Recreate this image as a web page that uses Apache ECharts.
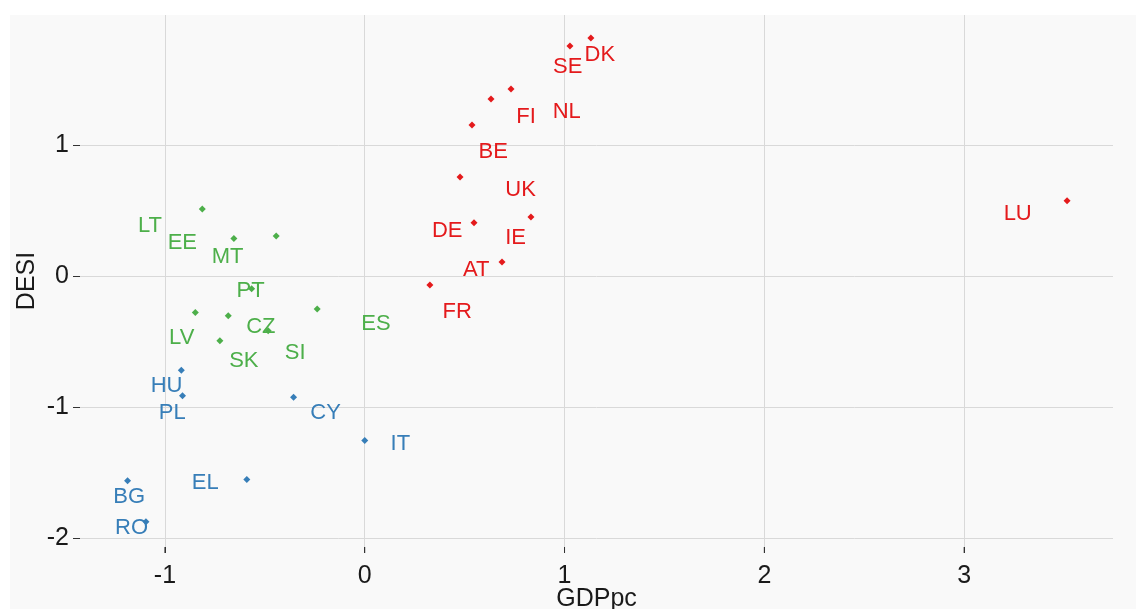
<!DOCTYPE html>
<html>
<head>
<meta charset="utf-8">
<script src="https://cdn.jsdelivr.net/npm/echarts@6/dist/echarts.min.js"></script>
<style>
html,body{margin:0;padding:0;background:#ffffff;}
#bg{position:absolute;left:10px;top:15px;width:1126px;height:594px;background:#f9f9f9;}
#c{position:absolute;left:0;top:0;width:1136px;height:609px;}
</style>
</head>
<body>
<div id="bg"></div>
<div id="c"></div>
<script>
// Cluster 1 (red)
const redNames = ['DK','SE','NL','FI','BE','UK','DE','IE','AT','FR','LU'];
const redGDP   = [1.132,1.027,0.732,0.632,0.537,0.477,0.547,0.832,0.687,0.326,3.515];
const redDESI  = [1.817,1.756,1.427,1.351,1.153,0.756,0.405,0.450,0.107,-0.069,0.573];
const redLabX  = [1.177,1.016,1.011,0.807,0.643,0.780,0.413,0.755,0.558,0.463,3.268];
const redLabY  = [1.687,1.598,1.250,1.216,0.944,0.656,0.344,0.288,0.046,-0.273,0.473];
// Cluster 2 (green)
const greenNames = ['LT','EE','MT','PT','LV','SK','ES','SI','CZ'];
const greenGDP   = [-0.813,-0.655,-0.443,-0.566,-0.848,-0.725,-0.238,-0.483,-0.683];
const greenDESI  = [0.511,0.285,0.305,-0.099,-0.280,-0.496,-0.252,-0.418,-0.305];
const greenLabX  = [-1.075,-0.913,-0.686,-0.571,-0.916,-0.605,0.056,-0.348,-0.520];
const greenLabY  = [0.382,0.250,0.143,-0.115,-0.476,-0.649,-0.369,-0.585,-0.387];
// Cluster 3 (blue)
const blueNames = ['HU','PL','CY','IT','EL','BG','RO'];
const blueGDP   = [-0.918,-0.912,-0.356,0.000,-0.590,-1.187,-1.095];
const blueDESI  = [-0.720,-0.916,-0.926,-1.257,-1.555,-1.565,-1.878];
const blueLabX  = [-0.992,-0.963,-0.196,0.178,-0.798,-1.179,-1.167];
const blueLabY  = [-0.840,-1.048,-1.044,-1.285,-1.578,-1.687,-1.926];

const xTicks = [-1,0,1,2,3];
const yTicks = [-2,-1,0,1];
const xTitle = 'GDPpc';
const yTitle = 'DESI';

const X_MIN = -1.425, X_MAX = 3.745, Y_MIN = -2.07, Y_MAX = 1.992;

const clusters = [
  {names: redNames, x: redGDP, y: redDESI, lx: redLabX, ly: redLabY, color: '#e41a1c'},
  {names: greenNames, x: greenGDP, y: greenDESI, lx: greenLabX, ly: greenLabY, color: '#4daf4a'},
  {names: blueNames, x: blueGDP, y: blueDESI, lx: blueLabX, ly: blueLabY, color: '#377eb8'}
];

const FONT = 'Liberation Sans, Arial, sans-serif';
const series = [];
clusters.forEach(c => {
  series.push({
    type: 'scatter',
    symbol: 'diamond',
    symbolSize: 7,
    itemStyle: {color: c.color, opacity: 1},
    data: c.names.map((n, i) => ({name: n, value: [c.x[i], c.y[i]]})),
    z: 3
  });
  series.push({
    type: 'scatter',
    symbolSize: 1,
    itemStyle: {color: 'rgba(0,0,0,0)', opacity: 1},
    label: {
      show: true, position: 'inside', formatter: '{b}',
      color: c.color, opacity: 1, fontSize: 22, fontFamily: FONT
    },
    data: c.names.map((n, i) => ({name: n, value: [c.lx[i], c.ly[i]]})),
    z: 4
  });
});
// x-axis tick marks placed through the axis scale, just below the plot area
series.push({
  type: 'scatter',
  silent: true,
  clip: false,
  symbol: 'rect',
  symbolSize: [1, 6],
  symbolOffset: [0, 3],
  itemStyle: {color: '#333', opacity: 1},
  data: xTicks.map(v => [v, Y_MIN]),
  z: 5
});

const chart = echarts.init(document.getElementById('c'), null, {renderer: 'canvas'});
chart.setOption({
  backgroundColor: 'transparent',
  animation: false,
  grid: {left: 80, right: 23, top: 15, bottom: 62, containLabel: false, outerBoundsMode: 'none'},
  xAxis: {
    type: 'value', min: X_MIN, max: X_MAX,
    name: xTitle, nameLocation: 'middle', nameGap: 40, nameMoveOverlap: false,
    nameTextStyle: {fontSize: 25, color: '#1a1a1a', fontFamily: FONT},
    axisLine: {show: false, onZero: false},
    axisTick: {show: true, inside: false, length: 6, lineStyle: {color: '#333', width: 1}, customValues: xTicks},
    axisLabel: {fontSize: 25, color: '#1a1a1a', margin: 17, fontFamily: FONT, customValues: xTicks},
    splitLine: {show: true, lineStyle: {color: '#d9d9d9', width: 1}}
  },
  yAxis: {
    type: 'value', min: Y_MIN, max: Y_MAX,
    name: yTitle, nameLocation: 'middle', nameGap: 40, nameMoveOverlap: false,
    nameTextStyle: {fontSize: 25, color: '#1a1a1a', fontFamily: FONT},
    axisLine: {show: false, onZero: false},
    axisTick: {show: true, length: 7, lineStyle: {color: '#333'}, customValues: yTicks},
    axisLabel: {fontSize: 25, color: '#1a1a1a', margin: 11, fontFamily: FONT, customValues: yTicks},
    splitLine: {show: true, lineStyle: {color: '#d9d9d9', width: 1}}
  },
  series: series
});
</script>
</body>
</html>
